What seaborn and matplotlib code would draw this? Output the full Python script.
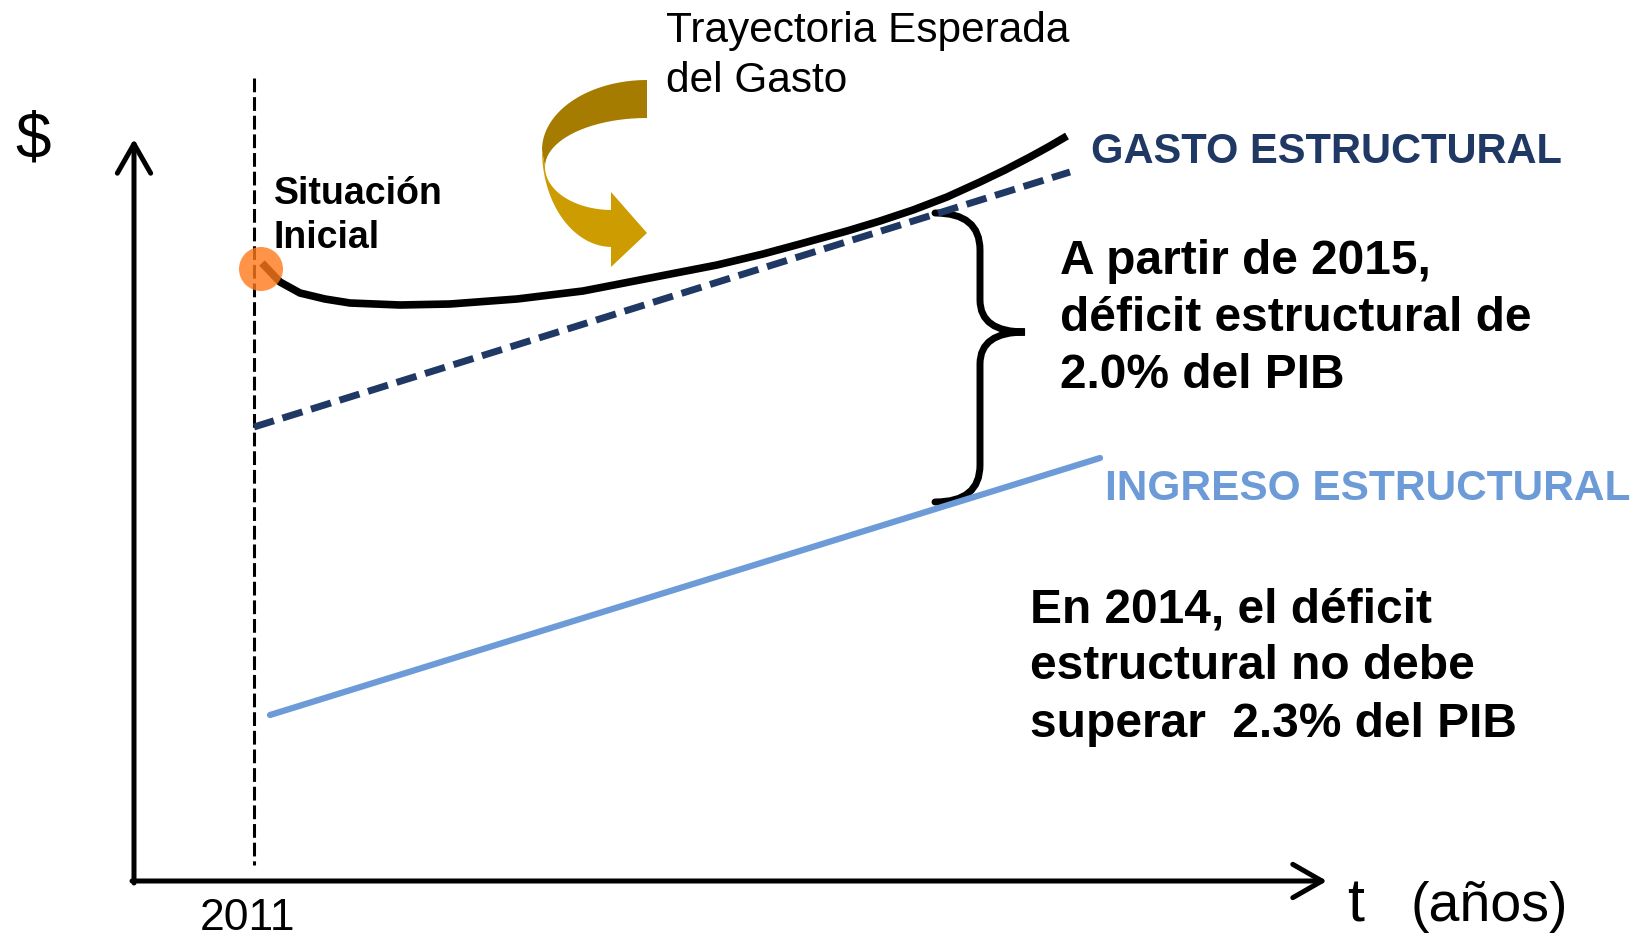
import numpy as np
import matplotlib
matplotlib.use("Agg")
import matplotlib.pyplot as plt
from matplotlib.patches import Circle, Polygon, PathPatch
from matplotlib.path import Path
import seaborn as sns

sns.set_theme(style="white")
plt.rcParams['font.family'] = ['Liberation Sans', 'DejaVu Sans']
plt.rcParams['text.color'] = 'black'

# diagram coordinates (x to the right, y downwards, same scale as the 1637x938 canvas)
gasto_x = [262, 280, 300, 325, 350, 400, 450, 517, 583, 650, 717, 763, 800, 847, 880,
           913, 947, 980, 1005, 1030, 1050, 1067]
gasto_y = [263, 282, 293, 299, 303, 305, 304, 299, 291, 278, 265, 254, 244, 231, 221,
           210, 197, 182, 170, 157, 146, 136]
tendencia_x = [254, 1070]
tendencia_y = [427, 172]
ingreso_x = [270, 1100]
ingreso_y = [715, 458]
inicio_x, inicio_y = 261, 269
anio_inicial = "2011"

navy = "#1F3864"
light_blue = "#6C9BD8"

fig = plt.figure(figsize=(16.37, 9.38), dpi=100)
ax = fig.add_axes([0, 0, 1, 1])
ax.set_xlim(0, 1637)
ax.set_ylim(938, 0)
ax.axis("off")

# axes arrows
arrow = dict(arrowstyle="->,head_length=1.05,head_width=0.6", lw=3.6, color="black",
             shrinkA=0, shrinkB=0, mutation_scale=20, capstyle="round", joinstyle="round")
ax.annotate("", xy=(134, 139), xytext=(134, 883), arrowprops=arrow)
ax.annotate("", xy=(1327, 881), xytext=(132, 881), arrowprops=arrow)

# vertical line at the initial year
ax.plot([254, 254], [78, 865], color="black", lw=2.2, linestyle=(0, (4.5, 1.6)))

# lines
sns.lineplot(x=ingreso_x, y=ingreso_y, ax=ax, color=light_blue, lw=4.5, sort=False)
sns.lineplot(x=tendencia_x, y=tendencia_y, ax=ax, color=navy, lw=5,
             linestyle=(0, (3, 1.3)), sort=False)
sns.lineplot(x=gasto_x, y=gasto_y, ax=ax, color="black", lw=5.5, sort=False,
             solid_capstyle="butt", solid_joinstyle="round")

# initial situation marker
ax.add_patch(Circle((inicio_x, inicio_y), 22, facecolor="#FF7A1A", alpha=0.8,
                    edgecolor="none", zorder=5))

# curly brace
brace = Path(
    [(935, 213), (980, 213), (980, 250), (980, 300), (980, 332), (1025, 332),
     (980, 332), (980, 364), (980, 465), (980, 502), (935, 502)],
    [Path.MOVETO, Path.CURVE3, Path.CURVE3, Path.LINETO, Path.CURVE3, Path.CURVE3,
     Path.CURVE3, Path.CURVE3, Path.LINETO, Path.CURVE3, Path.CURVE3])
ax.add_patch(PathPatch(brace, facecolor="none", edgecolor="black", lw=5, capstyle="round"))

# curved gold arrow
t = np.linspace(0, np.pi / 2, 40)
top_outer = np.c_[647 - 105 * np.sin(t), 150 - 70 * np.cos(t)]
top_inner = np.c_[647 - 102 * np.sin(t), 167 - 49 * np.cos(t)]
ax.add_patch(Polygon(np.vstack([top_outer, top_inner[::-1]]), closed=True,
                     facecolor="#A67C00", edgecolor="none"))
bot_outer = np.c_[612 - 70 * np.cos(t), 150 + 97 * np.sin(t)]
bot_inner = np.c_[612 - 67 * np.cos(t), 167 + 43 * np.sin(t)]
ax.add_patch(Polygon(np.vstack([bot_outer, bot_inner[::-1]]), closed=True,
                     facecolor="#CC9C00", edgecolor="none"))
ax.add_patch(Polygon([(611, 192), (647, 233), (611, 267)], closed=True,
                     facecolor="#CC9C00", edgecolor="none"))

# texts
ax.text(33, 140, "$", fontsize=46, ha="center", va="center")
ax.text(247, 930, anio_inicial, fontsize=32, ha="center", va="baseline")
ax.text(1347, 921, "t", fontsize=44, ha="left", va="baseline")
ax.text(1411, 921, "(años)", fontsize=40, ha="left", va="baseline")

for txt, yb in zip(["Trayectoria Esperada", "del Gasto"], [42, 92]):
    ax.text(666, yb, txt, fontsize=30.5, ha="left", va="baseline")

for txt, yb in zip(["Situación", "Inicial"], [204, 248]):
    ax.text(274, yb, txt, fontsize=27, fontweight="bold", ha="left", va="baseline")

ax.text(1091, 163, "GASTO ESTRUCTURAL", fontsize=30, fontweight="bold",
        color=navy, ha="left", va="baseline")
ax.text(1105, 500, "INGRESO ESTRUCTURAL", fontsize=30.5, fontweight="bold",
        color=light_blue, ha="left", va="baseline")

for txt, yb in zip(["A partir de 2015,", "déficit estructural de", "2.0% del PIB"],
                   [274, 331, 388]):
    ax.text(1060, yb, txt, fontsize=34.5, fontweight="bold", ha="left", va="baseline")

for txt, yb in zip(["En 2014, el déficit", "estructural no debe", "superar  2.3% del PIB"],
                   [622, 679, 737]):
    ax.text(1030, yb, txt, fontsize=34.5, fontweight="bold", ha="left", va="baseline")

fig.savefig("out.png", dpi=100)
